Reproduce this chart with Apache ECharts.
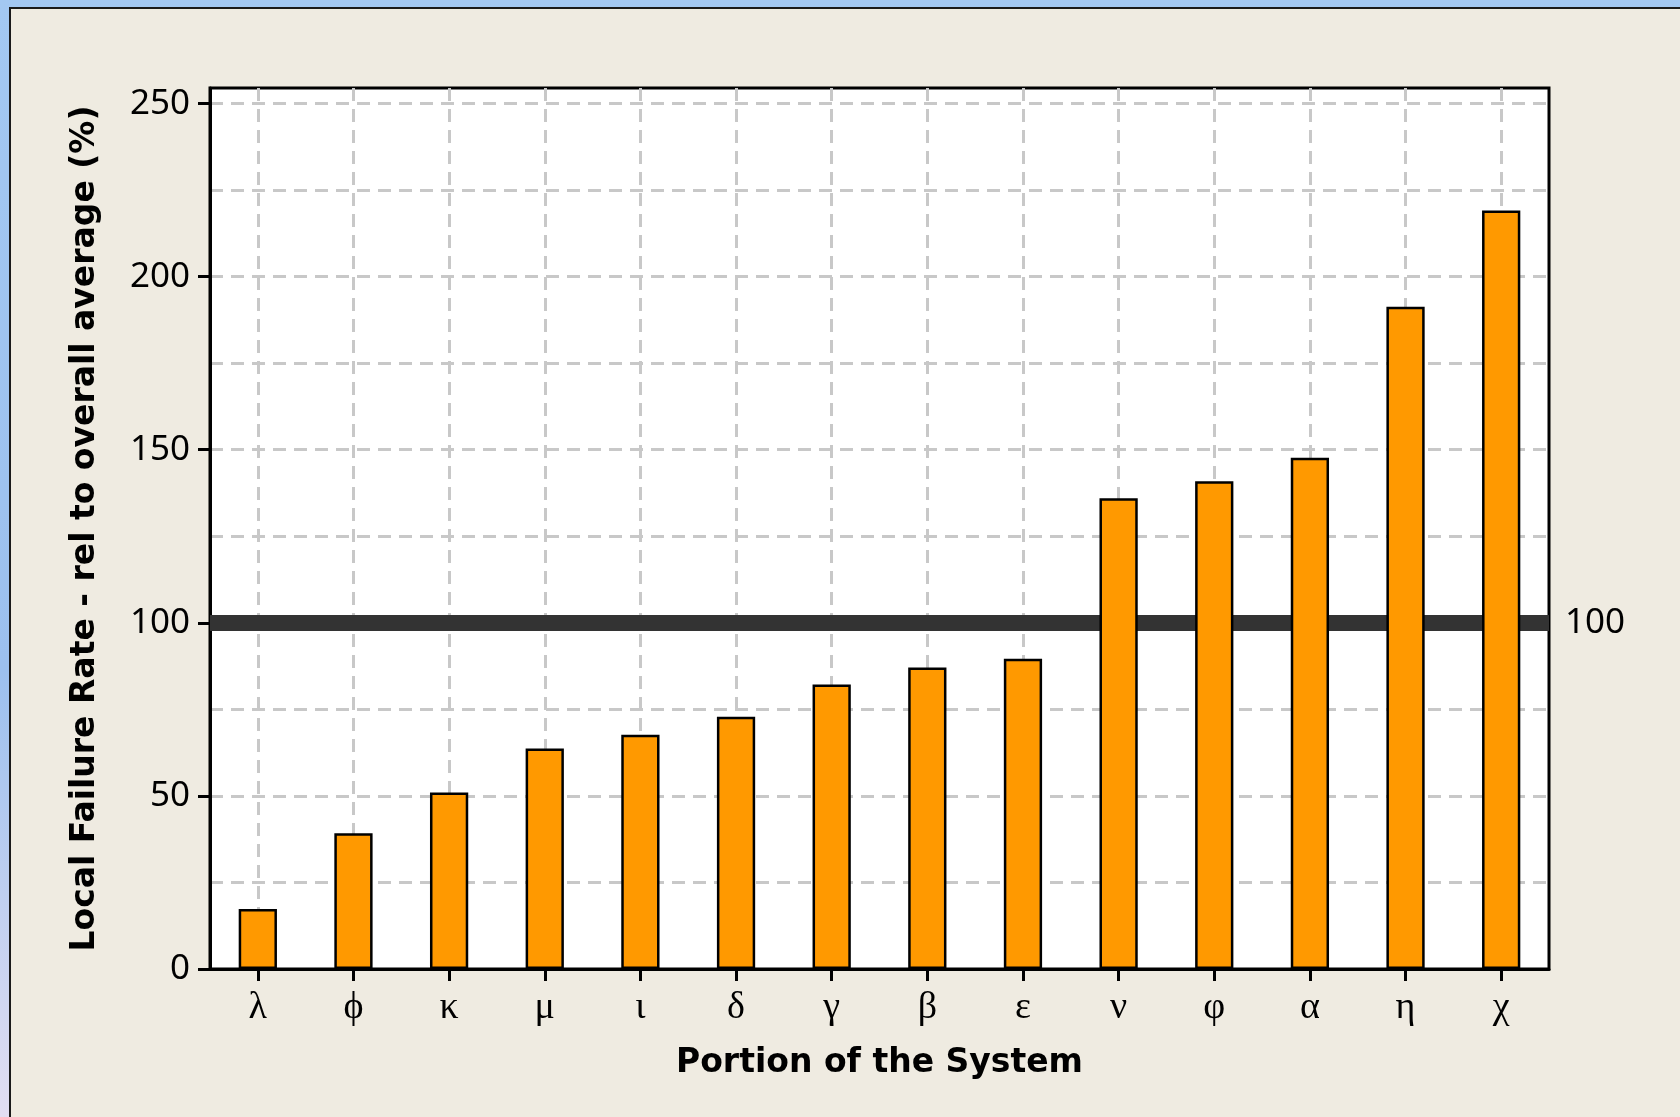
<!DOCTYPE html>
<html>
<head>
<meta charset="utf-8">
<script src="https://cdn.jsdelivr.net/npm/echarts@6/dist/echarts.min.js"></script>
<style>
  html, body { margin: 0; padding: 0; width: 1680px; height: 1117px; overflow: hidden; }
  body { background: linear-gradient(180deg, #a3c8f2 0%, #9cc0ee 60%, #e2def2 100%); position: relative; }
  .panel { position: absolute; left: 9px; top: 7px; right: 0; bottom: 0; background: #efebe1;
           border-left: 2px solid #1a1a1a; border-top: 2px solid #1a1a1a; }
  #chart { position: absolute; left: 0; top: 0; width: 1680px; height: 1117px; }
</style>
</head>
<body>
<div class="panel"></div>
<div id="chart"></div>
<script>
// portions of the system, sorted by failure rate
const categories = ["λ", "ϕ", "κ", "μ", "ι", "δ", "γ", "β", "ε", "ν", "φ", "α", "η", "χ"];
// local failure rate relative to overall average (%)
const failureRate = [17.3, 39.2, 51.0, 63.7, 67.7, 72.9, 82.2, 87.1, 89.6, 136.0, 140.9, 147.7, 191.3, 219.1];
const yTicks = [0, 50, 100, 150, 200, 250];
const average = 100;

const chart = echarts.init(document.getElementById("chart"), null, { renderer: "canvas" });
const gridDash = { color: "#c8c8c8", width: 3, type: [13, 8] };
const blackLine = { color: "#000", width: 3 };

// plot box, in pixels
const plotLeft = 210, plotRight = 131, plotTop = 88, plotBottom = 148;
const yMax = 254.5;
const yGridMax = 250;
const plotHeight = 1117 - plotTop - plotBottom;
// the dashed grid lives in a second grid that stops at 250, so no line lands on the frame top
const gridTop = plotTop + plotHeight * (yMax - yGridMax) / yMax;

chart.setOption({
  backgroundColor: "transparent",
  animation: false,
  textStyle: { fontFamily: "Noto Sans" },
  grid: [
    {
      left: plotLeft, top: plotTop, right: plotRight, bottom: plotBottom,
      show: true, backgroundColor: "#ffffff", borderColor: "#000", borderWidth: 3
    },
    { left: plotLeft, top: gridTop, right: plotRight, bottom: plotBottom, show: false }
  ],
  xAxis: [
    {
      type: "category",
      gridIndex: 0,
      data: categories,
      name: "Portion of the System",
      nameLocation: "middle",
      nameGap: 78,
      nameTextStyle: { fontSize: 33, fontWeight: "bold", color: "#000", fontFamily: "DejaVu Sans" },
      axisLine: { show: true, lineStyle: blackLine },
      axisTick: { show: true, alignWithLabel: true, length: 12, lineStyle: blackLine },
      axisLabel: { margin: 20, fontSize: 38, color: "#000", fontFamily: "Liberation Serif" },
      splitLine: { show: true, alignWithLabel: true, lineStyle: gridDash }
    },
    {
      type: "category",
      gridIndex: 1,
      data: categories,
      show: false
    }
  ],
  yAxis: [
    {
      type: "value",
      gridIndex: 0,
      min: 0,
      max: yMax,
      interval: 50,
      name: "Local Failure Rate - rel to overall average (%)",
      nameLocation: "middle",
      nameGap: 108,
      nameTextStyle: { fontSize: 33, fontWeight: "bold", color: "#000", fontFamily: "DejaVu Sans" },
      axisLine: { show: true, lineStyle: blackLine },
      axisTick: { show: true, length: 12, customValues: yTicks, lineStyle: blackLine },
      axisLabel: { margin: 20, fontSize: 35, color: "#000", customValues: yTicks },
      splitLine: { show: false }
    },
    {
      // dashed grid every 25
      type: "value",
      gridIndex: 1,
      min: 0,
      max: yGridMax,
      interval: 25,
      axisLine: { show: false },
      axisTick: { show: false },
      axisLabel: { show: false },
      splitLine: { show: true, lineStyle: gridDash }
    }
  ],
  series: [
    {
      type: "bar",
      data: failureRate,
      xAxisIndex: 0,
      yAxisIndex: 0,
      barWidth: "40%",
      z: 3,
      itemStyle: { color: "#ff9900", borderColor: "#000", borderWidth: 2.5 },
      markLine: {
        z: 1,
        silent: true,
        symbol: "none",
        lineStyle: { color: "#333333", width: 16, type: "solid" },
        label: { show: true, position: "end", distance: 16, fontSize: 35, color: "#000", formatter: "{c}" },
        data: [{ yAxis: average }]
      }
    }
  ]
});
</script>
</body>
</html>
